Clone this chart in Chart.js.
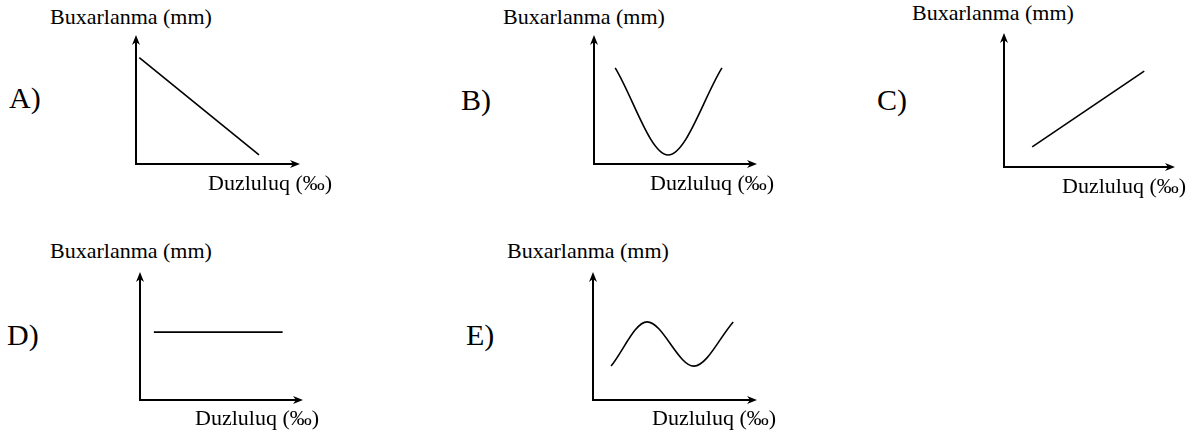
<!DOCTYPE html>
<html>
<head>
<meta charset="utf-8">
<script src="https://cdn.jsdelivr.net/npm/chart.js@4"></script>
<style>
  body { margin: 0; width: 1200px; height: 436px; background: #fff; position: relative; overflow: hidden; color: #000; }
  canvas { position: absolute; }
  .txt { position: absolute; white-space: nowrap; line-height: 1; font-family: "Liberation Serif", "DejaVu Serif", serif; }
</style>
</head>
<body>
<script>
// answer letters
const letters = ['A)', 'B)', 'C)', 'D)', 'E)'];
const yTitle = 'Buxarlanma (mm)';
const xTitle = 'Duzluluq (‰)';

// curves, in 0..10 units on both axes
const curveA = [[0.2, 8.25], [7.5, 0.7]];
const curveB = [[1.3, 7.45], [4.55, 0.7], [7.85, 7.45]];
const curveC = [[1.65, 1.5], [8.2, 7.15]];
const curveD = [[0.85, 5.3], [8.75, 5.3]];
const curveE = [[1.1, 2.65], [3.3, 6.1], [6.15, 2.65], [8.55, 6.1]];

const curves = [curveA, curveB, curveC, curveD, curveE];
const smooth = [false, true, false, false, true];

// panel frames: axis x, arrow top, arrow tip x, axis y
const frames = [
  [136, 35, 300, 164],
  [594, 35, 757, 164],
  [1004, 33, 1175, 167],
  [140, 272, 303, 400],
  [593, 272, 757, 400]
];
// text placement (left, baseline)
const letterPos = [[9, 108], [461, 110], [877, 110], [7, 345], [466, 345]];
const yTitlePos = [[50, 24], [503, 24], [912, 20], [50, 258], [507, 258]];
const xTitlePos = [[208, 190], [650, 190], [1062, 193], [195, 425], [652, 425]];

const PAD = { left: 8, top: 2, right: 2, bottom: 8 };

function addText(str, left, baseline, size) {
  const d = document.createElement('div');
  d.className = 'txt';
  d.textContent = str;
  d.style.fontSize = size + 'px';
  d.style.left = left + 'px';
  d.style.top = (baseline - 0.8375 * size) + 'px';
  document.body.appendChild(d);
}

const arrowAxes = {
  id: 'arrowAxes',
  afterDraw(chart) {
    const { ctx, chartArea: a } = chart;
    ctx.save();
    ctx.strokeStyle = '#000';
    ctx.fillStyle = '#000';
    ctx.lineWidth = 2;
    ctx.beginPath();
    ctx.moveTo(a.left, a.top + 6);
    ctx.lineTo(a.left, a.bottom);
    ctx.lineTo(a.right - 6, a.bottom);
    ctx.stroke();
    // y arrow
    ctx.beginPath();
    ctx.moveTo(a.left, a.top);
    ctx.lineTo(a.left - 4, a.top + 10);
    ctx.lineTo(a.left, a.top + 7);
    ctx.lineTo(a.left + 4, a.top + 10);
    ctx.closePath();
    ctx.fill();
    // x arrow
    ctx.beginPath();
    ctx.moveTo(a.right, a.bottom);
    ctx.lineTo(a.right - 10, a.bottom - 4);
    ctx.lineTo(a.right - 7, a.bottom);
    ctx.lineTo(a.right - 10, a.bottom + 4);
    ctx.closePath();
    ctx.fill();
    ctx.restore();
  }
};

frames.forEach((f, i) => {
  const [ax, top, tip, ay] = f;
  const canvas = document.createElement('canvas');
  const w = tip - ax + PAD.left + PAD.right;
  const h = ay - top + PAD.top + PAD.bottom;
  canvas.width = w;
  canvas.height = h;
  canvas.style.width = w + 'px';
  canvas.style.height = h + 'px';
  canvas.style.left = (ax - PAD.left) + 'px';
  canvas.style.top = (top - PAD.top) + 'px';
  document.body.appendChild(canvas);

  new Chart(canvas, {
    type: 'line',
    data: {
      datasets: [{
        data: curves[i].map(([x, y]) => ({ x, y })),
        borderColor: '#000',
        borderWidth: 1.6,
        pointRadius: 0,
        fill: false,
        tension: smooth[i] ? 0.4 : 0,
        cubicInterpolationMode: smooth[i] ? 'monotone' : 'default'
      }]
    },
    options: {
      responsive: false,
      animation: false,
      devicePixelRatio: 1,
      layout: { padding: PAD },
      plugins: { legend: { display: false }, tooltip: { enabled: false } },
      scales: {
        x: { type: 'linear', min: 0, max: 10, display: false },
        y: { type: 'linear', min: 0, max: 10, display: false }
      }
    },
    plugins: [arrowAxes]
  });

  addText(letters[i], letterPos[i][0], letterPos[i][1], 30);
  addText(yTitle, yTitlePos[i][0], yTitlePos[i][1], 22);
  addText(xTitle, xTitlePos[i][0], xTitlePos[i][1], 22);
});
</script>
</body>
</html>
